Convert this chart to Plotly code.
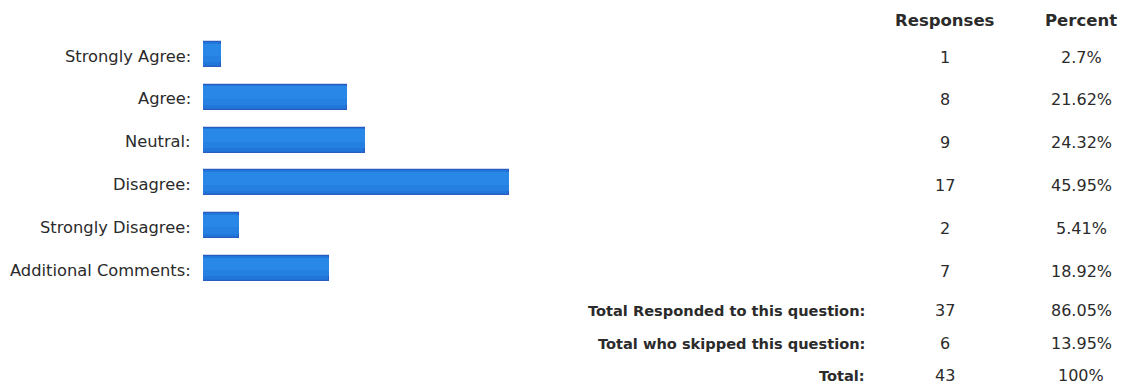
import plotly.graph_objects as go

# Survey answers and their counts
categories = ["Strongly Agree:", "Agree:", "Neutral:", "Disagree:",
              "Strongly Disagree:", "Additional Comments:"]
responses = [1, 8, 9, 17, 2, 7]
percents = ["2.7%", "21.62%", "24.32%", "45.95%", "5.41%", "18.92%"]

# Summary rows under the bar list
summary_labels = ["Total Responded to this question:",
                  "Total who skipped this question:", "Total:"]
summary_responses = [37, 6, 43]
summary_percents = ["86.05%", "13.95%", "100%"]

headers = ["Responses", "Percent"]

W, H = 1129, 389
ROW0, ROW_STEP = 54.5, 42.8      # pixel centre of first bar row and row pitch
BAR_X0, BAR_X1 = 203, 509        # pixel extent of the bar area
RESP_X, PCT_X, LABEL_X = 945, 1081, 193
BAR_W = 0.585

TEXT = "#2b2b2b"
FONT = "DejaVu Sans"


def px_to_row(py):
    return (py - ROW0) / ROW_STEP


idx = list(range(len(categories)))

fig = go.Figure()
# bar body with a slightly darker edge
fig.add_trace(go.Bar(
    x=responses, y=idx, orientation="h", width=BAR_W,
    marker=dict(color="#2176da", line=dict(color="#2a5cc0", width=1.2)),
    hoverinfo="skip", showlegend=False,
))
# soft lighter shading towards the top of each bar
for frac, col in [(0.75, "#2580e2"), (0.5, "#2987e7")]:
    fig.add_trace(go.Bar(
        x=responses, y=idx, orientation="h", width=BAR_W * frac,
        offset=-BAR_W / 2 + 0.04,
        marker=dict(color=col, line=dict(width=0)),
        hoverinfo="skip", showlegend=False,
    ))

ann = []
# column headers
for h, cx in zip(headers, [RESP_X, PCT_X]):
    ann.append(dict(x=cx / W, xref="paper", y=px_to_row(20), yref="y",
                    text=h, showarrow=False, xanchor="center", yanchor="middle",
                    font=dict(family=FONT, size=16.5, color=TEXT, weight="bold")))

# bar rows: category label, count, percent
for i, (c, r, p) in enumerate(zip(categories, responses, percents)):
    yy = i + 2.5 / ROW_STEP
    ann.append(dict(x=LABEL_X / W, xref="paper", y=i + 1.5 / ROW_STEP, yref="y",
                    text=c, showarrow=False, xanchor="right", yanchor="middle",
                    font=dict(family=FONT, size=16.3, color=TEXT)))
    ann.append(dict(x=RESP_X / W, xref="paper", y=yy, yref="y",
                    text=str(r), showarrow=False, xanchor="center", yanchor="middle",
                    font=dict(family=FONT, size=16, color=TEXT)))
    ann.append(dict(x=PCT_X / W, xref="paper", y=yy, yref="y",
                    text=p, showarrow=False, xanchor="center", yanchor="middle",
                    font=dict(family=FONT, size=16, color=TEXT)))

# summary rows
for lab, r, p, py in zip(summary_labels, summary_responses, summary_percents,
                         [310, 343, 375]):
    yy = px_to_row(py)
    ann.append(dict(x=867 / W, xref="paper", y=yy, yref="y",
                    text=lab, showarrow=False, xanchor="right", yanchor="middle",
                    font=dict(family=FONT, size=14.6, color=TEXT, weight="bold")))
    ann.append(dict(x=RESP_X / W, xref="paper", y=yy, yref="y",
                    text=str(r), showarrow=False, xanchor="center", yanchor="middle",
                    font=dict(family=FONT, size=16, color=TEXT)))
    ann.append(dict(x=PCT_X / W, xref="paper", y=yy, yref="y",
                    text=p, showarrow=False, xanchor="center", yanchor="middle",
                    font=dict(family=FONT, size=16, color=TEXT)))

fig.update_layout(
    width=W, height=H,
    margin=dict(l=0, r=0, t=0, b=0),
    paper_bgcolor="white", plot_bgcolor="white",
    xaxis=dict(domain=[BAR_X0 / W, BAR_X1 / W], range=[0, max(responses)],
               visible=False, fixedrange=True),
    yaxis=dict(range=[px_to_row(H), px_to_row(0)], visible=False, fixedrange=True),
    annotations=ann,
    barmode="overlay",
    bargap=0,
)

fig.write_html("out.html", config={"displayModeBar": False})
